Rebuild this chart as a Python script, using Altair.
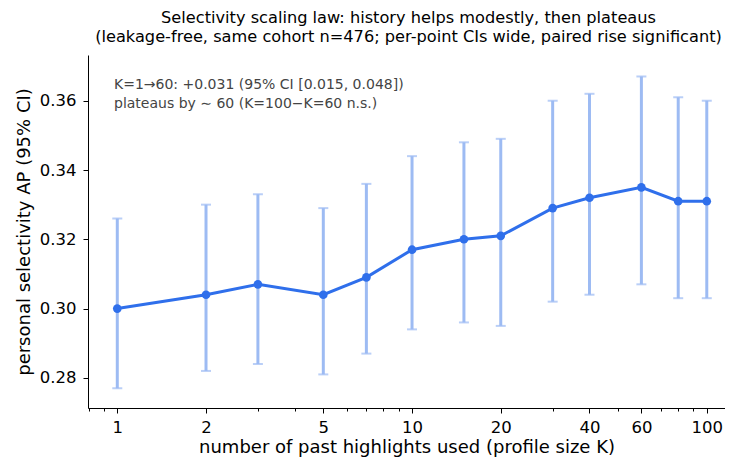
import altair as alt
import pandas as pd

K = [1, 2, 3, 5, 7, 10, 15, 20, 30, 40, 60, 80, 100]
AP = [0.300, 0.304, 0.307, 0.304, 0.309, 0.317, 0.320, 0.321, 0.329, 0.332, 0.335, 0.331, 0.331]
LO = [0.277, 0.282, 0.284, 0.281, 0.287, 0.294, 0.296, 0.295, 0.302, 0.304, 0.307, 0.303, 0.303]
HI = [0.326, 0.330, 0.333, 0.329, 0.336, 0.344, 0.348, 0.349, 0.360, 0.362, 0.367, 0.361, 0.360]

major_ticks = [1, 2, 5, 10, 20, 40, 60, 100]
minor_ticks = [0.8, 0.9, 3, 4, 6, 7, 8, 9, 30, 50, 70, 80, 90]
y_ticks = [0.28, 0.30, 0.32, 0.34, 0.36]

title_lines = [
    "Selectivity scaling law: history helps modestly, then plateaus",
    "(leakage-free, same cohort n=476; per-point CIs wide, paired rise significant)",
]
note_lines = [
    "K=1\u219260: +0.031 (95% CI [0.015, 0.048])",
    "plateaus by  \u223c 60 (K=100\u2212K=60 n.s.)",
]

df = pd.DataFrame({"K": K, "AP": AP, "lo": LO, "hi": HI})
FONT = "DejaVu Sans"
LINE = "#2F6FEB"
BAR = "#9DBBF3"

major_str = "[" + ",".join(str(v) for v in major_ticks) + "]"
is_major = f"indexof({major_str}, datum.value) >= 0"

xscale = alt.Scale(type="log", domain=[0.7955, 115.3])
yscale = alt.Scale(domain=[0.2713, 0.3732], nice=False, zero=False)

xaxis = alt.Axis(
    values=sorted(major_ticks + minor_ticks),
    labelExpr=f"{is_major} ? datum.label : ''",
    title="number of past highlights used (profile size K)",
    grid=False, tickColor="black", domainColor="black",
    tickSize={"condition": {"test": is_major, "value": 5}, "value": 3},
    labelFontSize=16.5, labelColor="black", labelFont=FONT, labelPadding=6,
    titleFont=FONT, titleFontSize=18, titleFontWeight="normal", titleColor="black",
    titlePadding=3, labelFlush=False, labelOverlap=False,
)
yaxis = alt.Axis(
    values=y_ticks, format=".2f", title="personal selectivity AP (95% CI)",
    grid=False, tickSize=5, tickColor="black", domainColor="black",
    labelFontSize=16.5, labelColor="black", labelFont=FONT, labelPadding=7,
    titleFont=FONT, titleFontSize=18, titleFontWeight="normal", titleColor="black",
    titlePadding=6,
)

base = alt.Chart(df)

rules = base.mark_rule(color=BAR, strokeWidth=3).encode(
    x=alt.X("K:Q", scale=xscale, axis=xaxis),
    y=alt.Y("lo:Q", scale=yscale, axis=yaxis),
    y2="hi:Q",
)
cap_lo = base.mark_tick(color=BAR, orient="horizontal", size=10, thickness=2).encode(
    x=alt.X("K:Q", scale=xscale), y=alt.Y("lo:Q", scale=yscale)
)
cap_hi = base.mark_tick(color=BAR, orient="horizontal", size=10, thickness=2).encode(
    x=alt.X("K:Q", scale=xscale), y=alt.Y("hi:Q", scale=yscale)
)
line = base.mark_line(color=LINE, strokeWidth=3).encode(
    x=alt.X("K:Q", scale=xscale), y=alt.Y("AP:Q", scale=yscale)
)
pts = base.mark_circle(color=LINE, size=75, opacity=1).encode(
    x=alt.X("K:Q", scale=xscale), y=alt.Y("AP:Q", scale=yscale)
)

note = alt.Chart(pd.DataFrame({"t": ["\n".join(note_lines)]})).mark_text(
    align="left", baseline="middle", font=FONT, fontSize=14, color="#444444",
    lineBreak="\n", lineHeight=18.5,
).encode(
    x=alt.value(26),
    y=alt.value(30),
    text="t:N",
)

chart = (
    alt.layer(rules, cap_lo, cap_hi, line, pts, note)
    .properties(
        width=637, height=353,
        autosize=alt.AutoSizeParams(type="none"),
        padding={"left": 80, "top": 47, "right": 0, "bottom": 49},
        title=alt.TitleParams(
            text=title_lines, font=FONT, fontSize=16.2, fontWeight="normal",
            color="black", anchor="middle", lineHeight=18.5, offset=10, dx=2,
        ),
    )
    .configure_view(stroke=None)
)

chart.save("out.html", embed_options={"renderer": "svg", "actions": False})
